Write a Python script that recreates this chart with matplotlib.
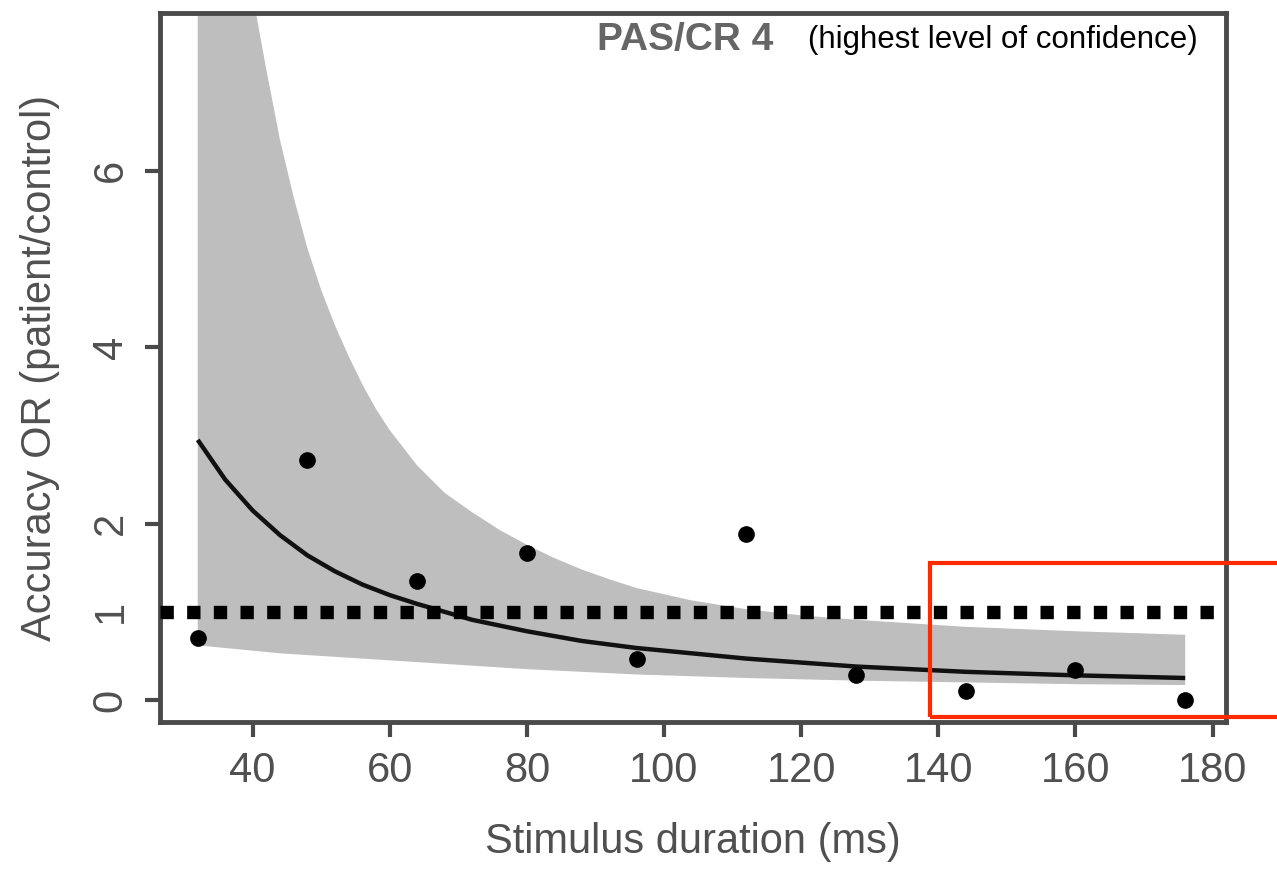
import matplotlib
matplotlib.use('Agg')
import matplotlib.pyplot as plt
from matplotlib.patches import Rectangle

plt.rcParams['font.family'] = ['Liberation Sans', 'DejaVu Sans']

# observed odds ratios per stimulus duration
durations = [32, 48, 64, 80, 96, 112, 128, 144, 160, 176]
or_values = [0.70, 2.72, 1.35, 1.67, 0.46, 1.88, 0.28, 0.10, 0.34, 0.00]

# fitted curve
fit_x = [32, 36, 40, 44, 48, 52, 56, 60, 64, 72, 80, 88, 96, 112, 128, 144, 160, 176]
fit_y = [2.95, 2.50, 2.15, 1.87, 1.64, 1.46, 1.31, 1.19, 1.09, 0.91, 0.78, 0.67, 0.59, 0.47, 0.38, 0.32, 0.28, 0.25]

# confidence band
ci_x = [32, 34, 36, 38, 40, 42, 44, 46, 48, 50, 52, 54, 56, 58, 60, 64, 68, 72, 76, 80,
        84, 88, 92, 96, 104, 112, 120, 128, 144, 160, 176]
ci_hi = [13.5, 11.6, 10.1, 8.9, 8.0, 7.15, 6.35, 5.7, 5.12, 4.65, 4.25, 3.90, 3.58, 3.30, 3.06,
         2.66, 2.35, 2.13, 1.93, 1.76, 1.61, 1.48, 1.37, 1.27, 1.13, 1.03, 0.96, 0.91, 0.83, 0.78, 0.74]
ci_lo = [0.62, 0.605, 0.59, 0.575, 0.56, 0.545, 0.53, 0.52, 0.51, 0.50, 0.49, 0.48, 0.47, 0.46, 0.45,
         0.43, 0.41, 0.39, 0.37, 0.35, 0.335, 0.32, 0.305, 0.29, 0.27, 0.25, 0.235, 0.22, 0.20, 0.18, 0.17]

x_ticks = [40, 60, 80, 100, 120, 140, 160, 180]
y_ticks = [0, 1, 2, 4, 6]

GREY = '#505050'
SPINE = '#4a4a4a'

fig = plt.figure(figsize=(12.77, 8.76), dpi=100)
fig.patch.set_facecolor('white')
ax = fig.add_axes([160/1277, 1-722/876, (1226-160)/1277, (722-13)/876])

ax.fill_between(ci_x, ci_lo, ci_hi, color='#bebebe', lw=0, zorder=1)
ax.plot(fit_x, fit_y, color='#111111', lw=3.2, solid_capstyle='butt', zorder=2)
ax.axhline(1, color='black', lw=9.6, linestyle=(0, (1.0, 1.0)), dash_capstyle='butt', zorder=3)
ax.plot(durations, or_values, 'o', color='black', ms=11, zorder=4)

ax.set_xlim(26.5, 181.95)
ax.set_ylim(-0.249, 7.79)
ax.set_xticks(x_ticks)
ax.set_yticks(y_ticks)
ax.set_yticklabels([str(v) for v in y_ticks], rotation=90, va='center')
ax.yaxis.get_major_ticks()[1].tick1line.set_visible(False)
ax.tick_params(axis='both', length=11, width=3, color=SPINE, labelsize=30, labelcolor=GREY, pad=10)
for s in ax.spines.values():
    s.set_color(SPINE)
    s.set_linewidth(3.5)

ax.set_xlabel('Stimulus duration (ms)', fontsize=30, color=GREY, labelpad=22)
ax.set_ylabel('Accuracy OR (patient/control)', fontsize=30, color=GREY, labelpad=22)

fig.text(597/1277, 1-40/876, 'PAS/CR 4', fontsize=28, weight='bold', color='#666666', ha='left', va='center')
fig.text(808/1277, 1-40/876, '(highest level of confidence)', fontsize=22.5, color='black', ha='left', va='center')

# red highlight box, running off the right edge
fig.patches.append(Rectangle((930/1277, 1-717/876), 0.3, (717-563)/876, transform=fig.transFigure,
                             fill=False, ec='#ff2a00', lw=3, zorder=10))

plt.savefig('out.png', dpi=100, facecolor='white')
